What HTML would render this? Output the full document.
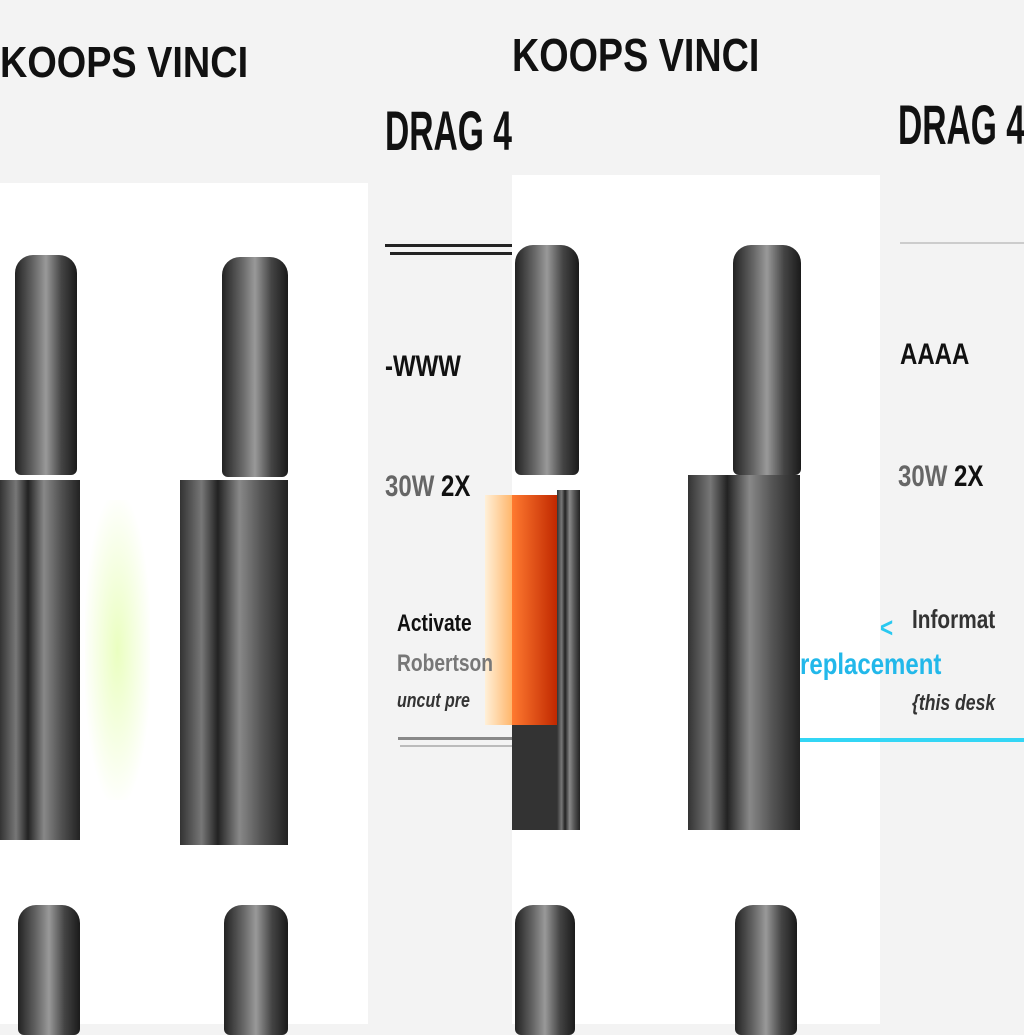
<!DOCTYPE html>
<html><head><meta charset="utf-8"><style>
body{margin:0;width:1024px;height:1024px;background:#f3f3f3;position:relative;overflow:hidden;font-family:"Liberation Sans",sans-serif}
div{position:absolute}
.w{background:#fff}
.tank{background:linear-gradient(90deg,#222,#666 30%,#999 50%,#444 75%,#1a1a1a);border-radius:18px 18px 6px 6px}
.box{background:linear-gradient(90deg,#333,#777 20%,#222 35%,#888 55%,#555 75%,#222)}
.t{font-weight:bold;color:#111;white-space:nowrap;transform-origin:0 0}
</style></head><body>
<div class="w" style="left:0;top:183px;width:368px;height:841px"></div>
<div class="w" style="left:512px;top:175px;width:368px;height:849px"></div>

<div class="t" style="left:0;top:38px;font-size:44px;transform:scaleX(.86)">KOOPS VINCI</div>
<div class="t" style="left:512px;top:28px;font-size:46px;transform:scaleX(.82)">KOOPS VINCI</div>
<div class="t" style="left:385px;top:98px;font-size:56px;transform:scaleX(.6)">DRAG 4</div>
<div class="t" style="left:898px;top:92px;font-size:56px;transform:scaleX(.6)">DRAG 4</div>
<div style="left:385px;top:244px;width:127px;height:3px;background:#222"></div>
<div style="left:390px;top:252px;width:122px;height:3px;background:#222"></div>
<div style="left:900px;top:242px;width:124px;height:2px;background:#ccc"></div>
<div class="t" style="left:385px;top:350px;font-size:30px;transform:scaleX(.8)">-WWW</div>
<div class="t" style="left:900px;top:338px;font-size:30px;transform:scaleX(.8)">AAAA</div>
<div class="t" style="left:385px;top:470px;font-size:30px;color:#666;transform:scaleX(.8)">30W <b style="color:#111">2X</b></div>
<div class="t" style="left:898px;top:460px;font-size:30px;color:#666;transform:scaleX(.8)">30W <b style="color:#111">2X</b></div>

<div style="left:85px;top:500px;width:65px;height:300px;background:radial-gradient(ellipse at center,#eaffc0,#fff 75%)"></div>
<div style="left:485px;top:495px;width:30px;height:230px;background:linear-gradient(90deg,#fff0d8,#ffb060)"></div>
<div style="left:512px;top:495px;width:45px;height:230px;background:linear-gradient(90deg,#ff7a30,#c02800)"></div>

<div class="t" style="left:397px;top:610px;font-size:24px;transform:scaleX(.8)">Activate</div>
<div class="t" style="left:397px;top:650px;font-size:24px;color:#777;transform:scaleX(.8)">Robertson</div>
<div class="t" style="left:397px;top:690px;font-size:20px;font-style:italic;color:#333;transform:scaleX(.8)">uncut pre</div>
<div style="left:398px;top:737px;width:114px;height:3px;background:#888"></div>
<div style="left:400px;top:745px;width:112px;height:2px;background:#bbb"></div>

<div class="tank" style="left:15px;top:255px;width:62px;height:220px"></div>
<div class="box" style="left:0;top:480px;width:80px;height:360px"></div>
<div class="tank" style="left:222px;top:257px;width:66px;height:220px"></div>
<div class="box" style="left:180px;top:480px;width:108px;height:365px"></div>
<div class="tank" style="left:515px;top:245px;width:64px;height:230px"></div>
<div class="box" style="left:557px;top:490px;width:23px;height:340px"></div>
<div style="left:512px;top:725px;width:45px;height:105px;background:#333"></div>
<div class="tank" style="left:733px;top:245px;width:68px;height:230px"></div>
<div class="box" style="left:688px;top:475px;width:112px;height:355px"></div>

<div class="t" style="left:912px;top:604px;font-size:26px;color:#333;transform:scaleX(.8)">Informat</div>
<div class="t" style="left:880px;top:612px;font-size:28px;color:#29c8f0;transform:scaleX(.8)">&lt;</div>
<div class="t" style="left:800px;top:648px;font-size:30px;color:#22b8ea;transform:scaleX(.8)">replacement</div>
<div class="t" style="left:912px;top:690px;font-size:22px;font-style:italic;color:#333;transform:scaleX(.8)">{this desk</div>
<div style="left:800px;top:738px;width:224px;height:4px;background:#33d6f5"></div>

<div class="tank" style="left:18px;top:905px;width:62px;height:130px"></div>
<div class="tank" style="left:224px;top:905px;width:64px;height:130px"></div>
<div class="tank" style="left:515px;top:905px;width:60px;height:130px"></div>
<div class="tank" style="left:735px;top:905px;width:62px;height:130px"></div>
</body></html>
